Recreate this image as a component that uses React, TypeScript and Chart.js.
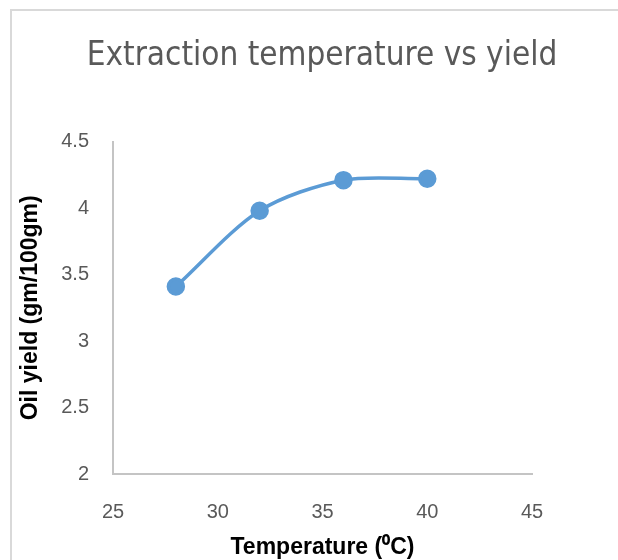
import React, { useEffect, useRef } from "react";
import { Chart, registerables } from "chart.js";

Chart.register(...registerables);

const chartTitle = "Extraction temperature vs yield";
const xAxisTitle = "Temperature (\u2070C)";
const yAxisTitle = "Oil yield (gm/100gm)";
const temperatures = [28, 32, 36, 40];
const yields = [3.41, 3.98, 4.21, 4.22];
const xMin = 25;
const xMax = 45;
const xStep = 5;
const yMin = 2;
const yMax = 4.5;
const yStep = 0.5;

export default function App() {
  const ref = useRef<HTMLCanvasElement | null>(null);

  useEffect(() => {
    if (!ref.current) return;
    const tickFont = { family: "'Liberation Sans', Arial, sans-serif", size: 20 };
    const chart = new Chart(ref.current, {
      type: "line",
      data: {
        datasets: [
          {
            data: temperatures.map((t, i) => ({ x: t, y: yields[i] })),
            borderColor: "#5b9bd5",
            backgroundColor: "#5b9bd5",
            borderWidth: 3.5,
            pointRadius: 7.5,
            pointHoverRadius: 7.5,
            pointBackgroundColor: "#5b9bd5",
            pointBorderColor: "#5b9bd5",
            tension: 0.3,
            fill: false,
            yAxisID: "y",
          },
        ],
      },
      options: {
        animation: false,
        responsive: false,
        maintainAspectRatio: false,
        layout: { padding: { left: 26, right: 0, top: 0, bottom: 0 } },
        plugins: {
          legend: { display: false },
          tooltip: { enabled: false },
          title: {
            display: true,
            text: chartTitle,
            color: "#595959",
            font: { family: "'Liberation Sans Narrow', 'DejaVu Sans Condensed', sans-serif", size: 33, weight: "normal" },
            padding: { top: 37, bottom: 65 },
          },
        },
        scales: {
          x: {
            type: "linear",
            min: xMin,
            max: xMax,
            ticks: {
              stepSize: xStep,
              color: "#595959",
              font: tickFont,
              padding: 26,
              maxRotation: 0,
              callback: (v: any) => String(v),
            },
            grid: { display: false, drawTicks: false },
            border: { display: true, color: "#c4c4c4", width: 2 },
            title: {
              display: true,
              text: xAxisTitle,
              color: "#000000",
              font: { family: "'Liberation Sans', Arial, sans-serif", size: 23, weight: "bold" },
              padding: { top: 0, bottom: -1 },
            },
            afterFit: (s: any) => {
              s.height = 86;
            },
          },
          y: {
            type: "linear",
            position: "left",
            min: yMin,
            max: yMax,
            ticks: {
              stepSize: yStep,
              color: "#595959",
              font: tickFont,
              padding: 24,
              callback: (v: any) => String(v),
            },
            grid: { display: false, drawTicks: false },
            border: { display: true, color: "#c4c4c4", width: 2 },
            title: {
              display: true,
              text: yAxisTitle,
              color: "#000000",
              font: { family: "'Liberation Sans', Arial, sans-serif", size: 23, weight: "bold", lineHeight: 0.4 },
              padding: { top: 0.5, bottom: 0 },
            },
            afterFit: (s: any) => {
              s.width = 87;
            },
          },
          yRight: {
            type: "linear",
            position: "right",
            min: yMin,
            max: yMax,
            display: true,
            ticks: { display: false },
            grid: { display: false, drawTicks: false },
            border: { display: false },
            afterFit: (s: any) => {
              s.width = 86;
            },
          },
        },
      },
    });
    return () => chart.destroy();
  }, []);

  return (
    <div style={{ position: "fixed", left: 0, top: 0, width: 618, height: 560, background: "#ffffff" }}>
      <div
        style={{
          position: "absolute",
          left: 10,
          top: 9,
          right: -10,
          bottom: -10,
          borderTop: "2px solid #d9d9d9",
          borderLeft: "2px solid #d9d9d9",
        }}
      />
      <canvas ref={ref} width={618} height={560} style={{ position: "absolute", left: 0, top: 0 }} />
    </div>
  );
}
